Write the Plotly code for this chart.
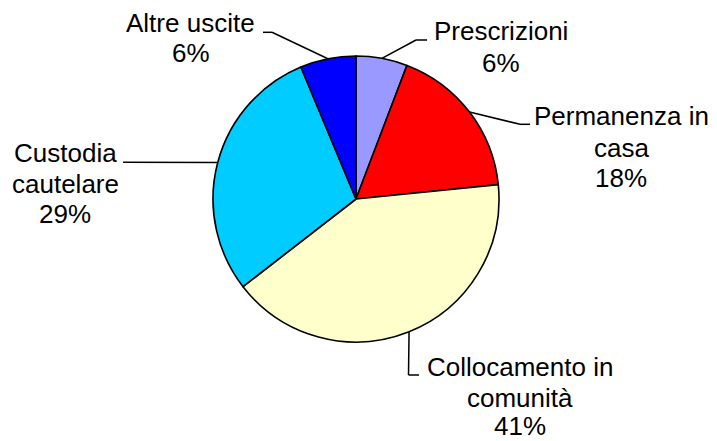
import math
import plotly.graph_objects as go

# ---- data ----
categories = ["Prescrizioni", "Permanenza in casa", "Collocamento in comunità",
              "Custodia cautelare", "Altre uscite"]
values = [5.8, 17.6, 41.1, 29.2, 6.3]
label_lines = [["Prescrizioni"], ["Permanenza in", "casa"], ["Collocamento in", "comunità"],
               ["Custodia", "cautelare"], ["Altre uscite"]]
colors = ["#9999FF", "#FF0000", "#FFFFCC", "#00CCFF", "#0000FF"]

# ---- layout constants (window pixels) ----
W, H = 717, 441
OFF = 8  # page body margin offset of the figure div
FW, FH = W - 2 * OFF, H - OFF
CX, CY, R = 356, 199, 143
FONT = dict(family="Liberation Sans, Arial, sans-serif", size=26, color="black")

# label placement: center x, baselines of each line (last line = percent)
label_x = [501, 621, 520, 65, 191]
label_baselines = [[40, 72], [125, 157, 187], [376, 407, 435], [161.7, 193, 223], [32, 62]]
# leader line elbow/end points (after leaving pie edge)
leader_pts = [
    [(416, 40), (427, 40)],
    [(520, 124.3), (530, 124.3)],
    [(408.5, 375), (419, 375)],
    [(123, 162.3)],
    [(272, 32.3), (263, 32.3)],
]

def px(x):
    return (x - OFF) / FW

def py(y):
    return 1 - (y - OFF) / FH

fig = go.Figure()
fig.add_trace(go.Pie(
    labels=categories, values=values, sort=False, direction="clockwise", rotation=0,
    marker=dict(colors=colors, line=dict(color="black", width=1.6)),
    textinfo="none", hoverinfo="label+percent", showlegend=False,
    domain=dict(x=[px(CX - R), px(CX + R)], y=[py(CY + R), py(CY - R)]),
))

total = sum(values)
cum = 0
shapes = []
annotations = []
for i, v in enumerate(values):
    mid = (cum + v / 2) / total * 2 * math.pi
    cum += v
    sx = CX + R * math.sin(mid)
    sy = CY - R * math.cos(mid)
    pts = [(sx, sy)] + leader_pts[i]
    for (x0, y0), (x1, y1) in zip(pts[:-1], pts[1:]):
        shapes.append(dict(type="line", xref="paper", yref="paper",
                           x0=px(x0), y0=py(y0), x1=px(x1), y1=py(y1),
                           line=dict(color="black", width=1.5)))
    pct = f"{round(v / total * 100)}%"
    lines = label_lines[i] + [pct]
    for text, base in zip(lines, label_baselines[i]):
        annotations.append(dict(text=text, xref="paper", yref="paper",
                                x=px(label_x[i]), y=py(base - 0.35 * FONT["size"]),
                                xanchor="center", yanchor="middle", showarrow=False,
                                font=FONT))

fig.update_layout(
    width=FW, height=FH, margin=dict(l=0, r=0, t=0, b=0),
    paper_bgcolor="white", plot_bgcolor="white",
    shapes=shapes, annotations=annotations,
)
fig.write_html("out.html")
